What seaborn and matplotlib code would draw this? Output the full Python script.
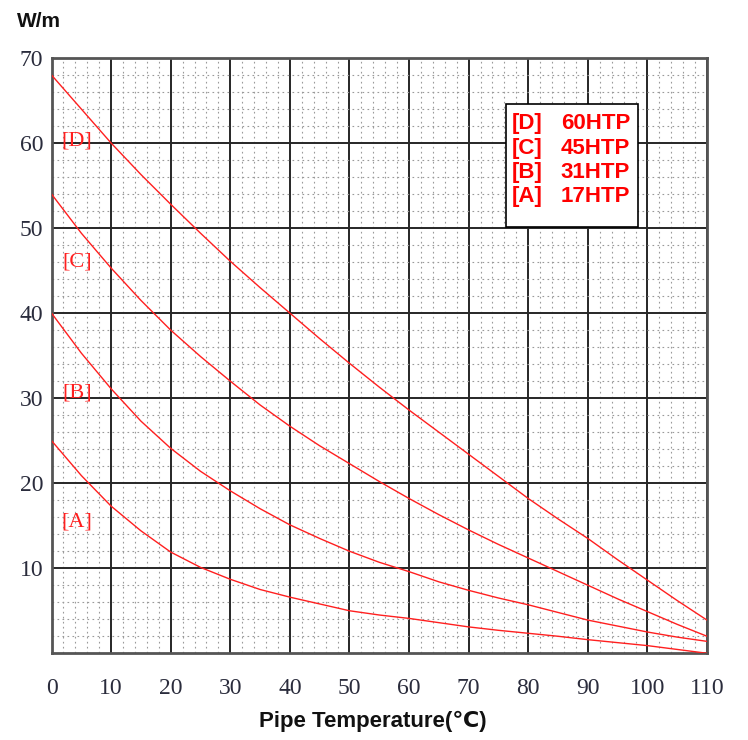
import matplotlib
matplotlib.use("Agg")
import matplotlib.pyplot as plt
from matplotlib.ticker import MultipleLocator
from matplotlib.patches import Rectangle
import pandas as pd
import seaborn as sns

# Pipe temperature (°C) and heat output (W/m) of each cable grade
temps = [0, 5, 10, 15, 20, 25, 30, 35, 40, 45, 50, 55,
         60, 65, 70, 75, 80, 85, 90, 95, 100, 105, 110]
out_60htp = [68.0, 64.0, 60.0, 56.3, 52.8, 49.4, 46.1, 43.0, 40.0, 37.0, 34.1, 31.3,
             28.6, 26.0, 23.4, 20.8, 18.2, 15.8, 13.5, 11.0, 8.6, 6.2, 3.9]
out_45htp = [54.0, 49.4, 45.3, 41.5, 38.0, 34.9, 32.0, 29.2, 26.7, 24.4, 22.3, 20.2,
             18.2, 16.3, 14.5, 12.8, 11.2, 9.6, 8.0, 6.4, 4.9, 3.4, 2.0]
out_31htp = [40.0, 35.3, 31.1, 27.3, 24.1, 21.4, 19.1, 17.0, 15.1, 13.5, 12.0, 10.7,
             9.6, 8.4, 7.4, 6.5, 5.7, 4.8, 3.9, 3.2, 2.5, 1.9, 1.4]
out_17htp = [25.0, 20.9, 17.3, 14.4, 11.9, 10.1, 8.7, 7.5, 6.6, 5.8, 5.0, 4.5,
             4.1, 3.6, 3.1, 2.7, 2.35, 2.0, 1.6, 1.25, 0.9, 0.45, 0.0]

codes = ["[D]", "[C]", "[B]", "[A]"]
models = ["60HTP", "45HTP", "31HTP", "17HTP"]
curve_tag_y = [60.2, 46.0, 30.6, 15.4]

x_ticks = list(range(0, 111, 10))
y_ticks = list(range(10, 71, 10))

frames = []
for code, vals in zip(codes, [out_60htp, out_45htp, out_31htp, out_17htp]):
    frames.append(pd.DataFrame({"temp": temps, "power": vals, "grade": code}))
df = pd.concat(frames, ignore_index=True)

sns.set_style("white")
plt.rcParams["font.family"] = ["Liberation Sans", "DejaVu Sans"]

RED = "#ff1f1f"
fig = plt.figure(figsize=(7.48, 7.40), dpi=100)
ax = fig.add_axes([0.0689, 0.1172, 0.8763, 0.8044])

sns.lineplot(data=df, x="temp", y="power", hue="grade",
             palette={c: RED for c in codes}, linewidth=1.0,
             legend=False, ax=ax, zorder=5)

ax.set_xlim(0, 110)
ax.set_ylim(0, 70)
ax.set_xticks(x_ticks)
ax.set_yticks(y_ticks)
ax.xaxis.set_minor_locator(MultipleLocator(2))
ax.yaxis.set_minor_locator(MultipleLocator(2))
ax.set_axisbelow(True)
ax.grid(which="major", color="#262626", linewidth=1.4, linestyle="-")
ax.grid(which="minor", color="#9a9a9a", linewidth=0.8, linestyle=(0, (1.5, 3.0)))

tick_font = dict(family="Liberation Serif", size=17, color="#2a2c3c")
ax.set_xticklabels([str(t) for t in x_ticks], fontdict=tick_font)
ax.set_yticklabels([str(t) for t in y_ticks], fontdict=tick_font)
ax.tick_params(axis="both", which="both", length=0)
ax.tick_params(axis="x", pad=18)
ax.tick_params(axis="y", pad=6)

for s in ax.spines.values():
    s.set_color("#555555")
    s.set_linewidth(2.0)

ax.set_xlabel("")
ax.set_ylabel("")

# Grade tags beside the curves
for code, yv in zip(codes, curve_tag_y):
    ax.text(4.3, yv, code, color=RED, family="Liberation Serif",
            fontsize=16, ha="center", va="center", zorder=6)

# Key box
ax.add_patch(Rectangle((0.694, 0.7166), 0.201, 0.2061, transform=ax.transAxes,
                       facecolor="white", edgecolor="black", linewidth=1.2,
                       zorder=7))
row_y = [0.890, 0.848, 0.8085, 0.7666]
for code, model, yv in zip(codes, models, row_y):
    ax.text(0.7016, yv, code, transform=ax.transAxes, color="#ff0000",
            fontsize=16, fontweight="bold", ha="left", va="center", zorder=8)
    ax.text(0.777, yv, model, transform=ax.transAxes, color="#ff0000",
            fontsize=16, fontweight="bold", ha="left", va="center", zorder=8)

fig.text(0.0515, 0.971, "W/m", fontsize=15, fontweight="bold",
         ha="center", va="center", color="#111111")
fig.text(0.498, 0.0257, "Pipe Temperature(℃)", fontsize=16, fontweight="bold",
         ha="center", va="center", color="#111111",
         family=["Liberation Sans", "DejaVu Sans"])

fig.savefig("out.png", dpi=100, facecolor="white")
